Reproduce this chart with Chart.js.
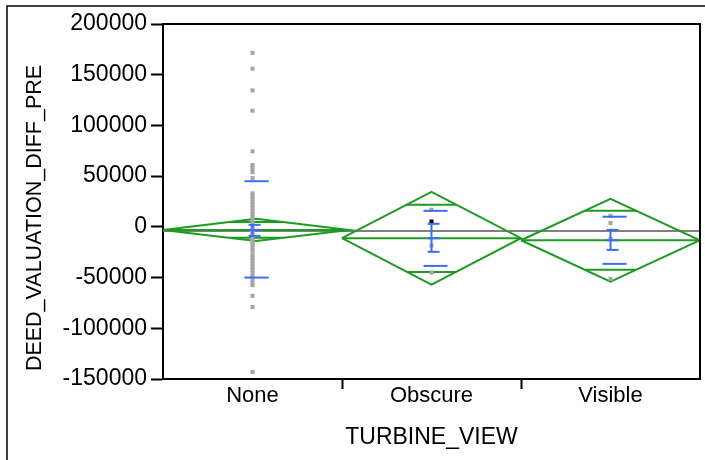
<!DOCTYPE html>
<html>
<head>
<meta charset="utf-8">
<script src="https://cdn.jsdelivr.net/npm/chart.js@4"></script>
<style>
  html, body { margin: 0; background: #fff; }
</style>
</head>
<body>
<canvas id="chart1" width="705" height="460"></canvas>
<script>
// values
const categories = ['None', 'Obscure', 'Visible'];
const yTicks = [-150000, -100000, -50000, 0, 50000, 100000, 150000, 200000];
const grandMean = -4000;
const means = [-3000, -11200, -13200];
const ciUpper = [8000, 34500, 27600];
const ciLower = [-14000, -57000, -54000];
const overlapUpper = [4800, 21700, 15800];
const overlapLower = [-10800, -44400, -42400];
const sdUpper = [45000, 15800, 10000];
const sdLower = [-50000, -38500, -36500];
const seUpper = [2000, 3000, -3000];
const seLower = [-8900, -24600, -22700];
const pointsNone = [171500, 156000, 134500, 114500, 74500, 61000, 57500, 54000, 48000,
    33000, 30000, 27500, 24000, 21500, 18500, 15000, 12500, 9500, 6000, 3500, 500,
    -2500, -5500, -8000, -11500, -14500, -17000, -20500, -23500, -27500, -30500,
    -33000, -36500, -39500, -42000, -45500, -48500, -51000, -54500, -57500,
    -68000, -79000, -143000];
const pointsObscure = [16800, -18400, -45000];
const pointsVisible = [10800, 3900, -11800, -51300];
const highlightObscure = [5200];
const xTitle = 'TURBINE_VIEW';
const yTitle = 'DEED_VALUATION_DIFF_PRE';

const GREEN = '#1f9a22';
const BLUE = '#3a6ef0';
const GRAY = '#a6a6a6';

Chart.defaults.font.family = '"Liberation Sans", Arial, sans-serif';
Chart.defaults.font.size = 22;
Chart.defaults.color = '#000';

const datasets = [];
function seg(data, color, order) {
    datasets.push({
        type: 'line', data: data, borderColor: color, borderWidth: 2,
        pointRadius: 0, fill: false, tension: 0, order: order
    });
}
function dots(cat, values, color) {
    datasets.push({
        type: 'scatter', data: values.map(v => ({ x: cat + 0.5, y: v })),
        pointStyle: 'rect', pointRadius: 2.9, borderWidth: 0,
        backgroundColor: color, order: 2
    });
}

seg([{ x: 0, y: grandMean }, { x: 3, y: grandMean }], '#808080', 4);

categories.forEach((c, i) => {
    // diamonds: None reaches a bit past its cell
    const l = i, r = i === 0 ? 1.04 : i + 1;
    const cx = (l + r) / 2, hw = (r - l) / 2;
    seg([{ x: l, y: means[i] }, { x: cx, y: ciUpper[i] }, { x: r, y: means[i] },
         { x: cx, y: ciLower[i] }, { x: l, y: means[i] }], GREEN, 3);
    seg([{ x: l, y: means[i] }, { x: r, y: means[i] }], GREEN, 3);
    [overlapUpper[i], overlapLower[i]].forEach(v => {
        const edge = v > means[i] ? ciUpper[i] : ciLower[i];
        const w = hw * (1 - (v - means[i]) / (edge - means[i]));
        seg([{ x: cx - w, y: v }, { x: cx + w, y: v }], GREEN, 3);
    });

    const px = i + 0.5;
    [sdUpper[i], sdLower[i]].forEach(v => {
        seg([{ x: px - 0.045, y: v }, { x: px + 0.09, y: v }], BLUE, 0);
    });
    seg([{ x: px, y: seUpper[i] }, { x: px, y: seLower[i] }], BLUE, 0);
    [seUpper[i], means[i], seLower[i]].forEach(v => {
        seg([{ x: px - 0.022, y: v }, { x: px + 0.045, y: v }], BLUE, 0);
    });
});

dots(0, pointsNone, GRAY);
dots(1, pointsObscure, GRAY);
dots(2, pointsVisible, GRAY);
datasets.push({
    type: 'scatter', data: highlightObscure.map(v => ({ x: 1.5, y: v })),
    pointStyle: 'rect', pointRadius: 2.9, borderWidth: 0,
    backgroundColor: '#000', order: 1
});

const xTickValues = categories.flatMap((c, i) => [i + 0.5, i + 1]).slice(0, -1);

const framePlugin = {
    id: 'frame',
    afterDraw(chart) {
        const { ctx, chartArea: a } = chart;
        ctx.save();
        ctx.strokeStyle = '#000';
        ctx.lineWidth = 2;
        ctx.beginPath();
        ctx.moveTo(a.left, a.top);
        ctx.lineTo(a.right, a.top);
        ctx.lineTo(a.right, a.bottom);
        ctx.stroke();
        ctx.lineWidth = 1.5;
        ctx.beginPath();
        ctx.moveTo(7, 460);
        ctx.lineTo(7, 6);
        ctx.lineTo(705, 6);
        ctx.stroke();
        // y axis title, centred like the reference
        ctx.translate(35, 218);
        ctx.rotate(-Math.PI / 2);
        ctx.font = '21.5px "Liberation Sans", Arial, sans-serif';
        ctx.fillStyle = '#000';
        ctx.textAlign = 'center';
        ctx.textBaseline = 'middle';
        ctx.fillText(yTitle, 0, 0);
        ctx.restore();
    }
};

new Chart(document.getElementById('chart1'), {
    type: 'scatter',
    data: { datasets: datasets },
    options: {
        responsive: false,
        animation: false,
        devicePixelRatio: 1,
        layout: { padding: { left: 0, right: 5, top: 24, bottom: 0 } },
        plugins: { legend: { display: false }, tooltip: { enabled: false } },
        scales: {
            x: {
                type: 'linear', min: 0, max: 3,
                afterBuildTicks: s => { s.ticks = xTickValues.map(v => ({ value: v })); },
                ticks: {
                    padding: -6, autoSkip: false, maxRotation: 0,
                    callback: v => Number.isInteger(v) ? '' : categories[Math.floor(v)]
                },
                grid: {
                    drawOnChartArea: false, tickLength: 10, tickWidth: 2,
                    tickColor: c => Number.isInteger(c.tick.value) ? '#000' : 'rgba(0,0,0,0)'
                },
                border: { color: '#000', width: 2 },
                title: { display: true, text: xTitle, font: { size: 23 }, padding: { top: 0, bottom: 9 } },
                afterFit: s => { s.height = 81; }
            },
            y: {
                min: yTicks[0], max: yTicks[yTicks.length - 1],
                afterBuildTicks: s => { s.ticks = yTicks.map(v => ({ value: v })); },
                ticks: { padding: 4, font: { size: 23 }, callback: v => String(v) },
                grid: { drawOnChartArea: false, tickLength: 12, tickWidth: 2, tickColor: '#000' },
                border: { color: '#000', width: 2 },
                afterFit: s => { s.width = 163; }
            }
        }
    },
    plugins: [framePlugin]
});
</script>
</body>
</html>
